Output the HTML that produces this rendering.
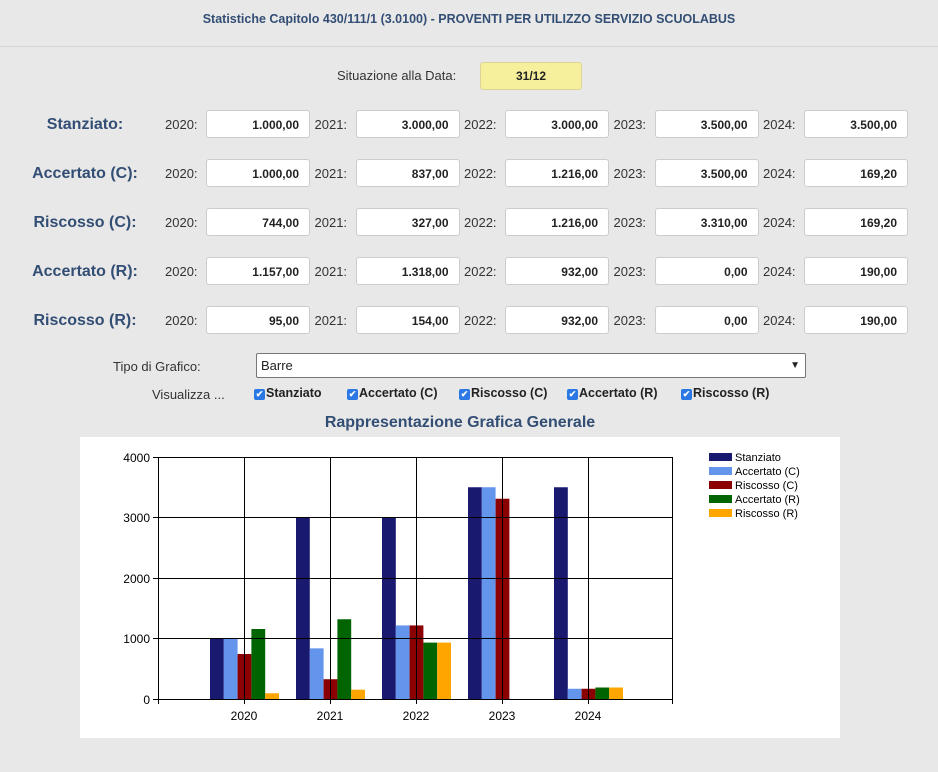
<!DOCTYPE html>
<html><head><meta charset="utf-8"><style>
body{margin:0;width:938px;height:772px;background:#e8e8e8;font-family:"Liberation Sans",sans-serif;position:relative;overflow:hidden}
.a{position:absolute}
.t{color:#334e74;font-weight:bold}
.lab{position:absolute;width:140px;left:15px;text-align:center;font-size:16px;font-weight:bold;color:#334e74}
.yr{position:absolute;font-size:13px;color:#333}
.in{position:absolute;height:28px;background:#fff;border:1px solid #ccc;border-radius:3px;font-size:12px;font-weight:bold;color:#222;text-align:right;line-height:28px;box-sizing:border-box;padding-right:10px;width:104px}
.cb{position:absolute;top:386px;font-size:12.5px;font-weight:bold;color:#222;line-height:14px}
.cb i{display:inline-block;width:11px;height:11px;background:#2b78e4;border-radius:2px;vertical-align:0px;margin-right:1px;color:#fff;font-style:normal;font-size:9px;line-height:11px;text-align:center}
</style></head><body>
<div class="a t" style="left:0;width:938px;top:12px;text-align:center;font-size:12.5px">Statistiche Capitolo 430/111/1 (3.0100) - PROVENTI PER UTILIZZO SERVIZIO SCUOLABUS</div>
<div class="a" style="left:0;top:46px;width:938px;height:1px;background:#d4d4d4"></div>
<div class="a" style="left:337px;top:68px;font-size:13px;color:#333">Situazione alla Data:</div>
<div class="a" style="left:480px;top:62px;width:102px;height:28px;background:#f6f09c;border:1px solid #ddd49a;border-radius:3px;box-sizing:border-box;text-align:center;line-height:27px;font-size:12px;font-weight:bold;color:#222">31/12</div>
<div id="rows"></div>
<script>
var labs=["Stanziato:","Accertato (C):","Riscosso (C):","Accertato (R):","Riscosso (R):"];
var v=[["1.000,00","3.000,00","3.000,00","3.500,00","3.500,00"],["1.000,00","837,00","1.216,00","3.500,00","169,20"],["744,00","327,00","1.216,00","3.310,00","169,20"],["1.157,00","1.318,00","932,00","0,00","190,00"],["95,00","154,00","932,00","0,00","190,00"]];
var h="";
for(var r=0;r<5;r++){var y=110+r*49;
h+='<div class="lab" style="top:'+(y+6)+'px">'+labs[r]+'</div>';
for(var c=0;c<5;c++){var x=206+c*149.5;
h+='<div class="yr" style="left:'+(x-41)+'px;top:'+(y+7)+'px">'+(2020+c)+':</div>';
h+='<div class="in" style="left:'+x+'px;top:'+y+'px">'+v[r][c]+'</div>';}}
document.getElementById("rows").innerHTML=h;
</script>
<div class="a" style="left:113px;top:359px;font-size:13px;color:#333">Tipo di Grafico:</div>
<div class="a" style="left:256px;top:353px;width:550px;height:25px;background:#fff;border:1px solid #767676;border-radius:2px;box-sizing:border-box;font-size:13px;line-height:23px;padding-left:4px;color:#222">Barre<span style="position:absolute;right:5px;top:0;font-size:10px">&#9660;</span></div>
<div class="a" style="left:152px;top:387px;font-size:13px;color:#333">Visualizza ...</div>
<div class="cb" style="left:254px"><i>✔</i>Stanziato</div>
<div class="cb" style="left:347px"><i>✔</i>Accertato (C)</div>
<div class="cb" style="left:459px"><i>✔</i>Riscosso (C)</div>
<div class="cb" style="left:567px"><i>✔</i>Accertato (R)</div>
<div class="cb" style="left:681px"><i>✔</i>Riscosso (R)</div>
<div class="a t" style="left:0;width:920px;top:414px;text-align:center;font-size:16px">Rappresentazione Grafica Generale</div>
<svg class="a" style="left:80px;top:437px" width="760" height="301" viewBox="80 437 760 301">
<rect x="80" y="437" width="760" height="301" fill="#fff"/>
<g id="bars"></g>
<g stroke="#000" stroke-width="1" fill="none">
<rect x="158.5" y="457.5" width="514" height="242"/>
<line x1="158.5" y1="517.5" x2="672.5" y2="517.5"/><line x1="158.5" y1="578.5" x2="672.5" y2="578.5"/><line x1="158.5" y1="638.5" x2="672.5" y2="638.5"/>
<line x1="244.5" y1="457" x2="244.5" y2="699"/><line x1="330.5" y1="457" x2="330.5" y2="699"/><line x1="416.5" y1="457" x2="416.5" y2="699"/><line x1="502.5" y1="457" x2="502.5" y2="699"/><line x1="588.5" y1="457" x2="588.5" y2="699"/>
<line x1="153" y1="457.5" x2="158" y2="457.5"/><line x1="153" y1="517.5" x2="158" y2="517.5"/><line x1="153" y1="578.5" x2="158" y2="578.5"/><line x1="153" y1="638.5" x2="158" y2="638.5"/><line x1="153" y1="699.5" x2="158" y2="699.5"/>
<line x1="158.5" y1="699" x2="158.5" y2="704"/><line x1="244.5" y1="699" x2="244.5" y2="704"/><line x1="330.5" y1="699" x2="330.5" y2="704"/><line x1="416.5" y1="699" x2="416.5" y2="704"/><line x1="502.5" y1="699" x2="502.5" y2="704"/><line x1="588.5" y1="699" x2="588.5" y2="704"/><line x1="672.5" y1="699" x2="672.5" y2="704"/>
</g>
<g font-size="12" fill="#000" text-anchor="end" font-family="Liberation Sans,sans-serif">
<text x="150" y="462">4000</text><text x="150" y="522">3000</text><text x="150" y="583">2000</text><text x="150" y="643">1000</text><text x="150" y="704">0</text>
</g>
<g font-size="12" fill="#000" text-anchor="middle" font-family="Liberation Sans,sans-serif">
<text x="244" y="720">2020</text><text x="330" y="720">2021</text><text x="416" y="720">2022</text><text x="502" y="720">2023</text><text x="588" y="720">2024</text>
</g>
<g font-size="11" fill="#000" font-family="Liberation Sans,sans-serif">
<rect x="709" y="453" width="23" height="8" fill="#191970"/><text x="735" y="461">Stanziato</text>
<rect x="709" y="467" width="23" height="8" fill="#6495ed"/><text x="735" y="475">Accertato (C)</text>
<rect x="709" y="481" width="23" height="8" fill="#8b0000"/><text x="735" y="489">Riscosso (C)</text>
<rect x="709" y="495" width="23" height="8" fill="#006400"/><text x="735" y="503">Accertato (R)</text>
<rect x="709" y="509" width="23" height="8" fill="#ffa500"/><text x="735" y="517">Riscosso (R)</text>
</g>
</svg>
<script>
var d=[[1000,3000,3000,3500,3500],[1000,837,1216,3500,169.2],[744,327,1216,3310,169.2],[1157,1318,932,0,190],[95,154,932,0,190]];
var col=["#191970","#6495ed","#8b0000","#006400","#ffa500"];var s="";
for(var g=0;g<5;g++)for(var k=0;k<5;k++){var hh=d[k][g]*0.0605;var x=210+g*86+k*13.8;
s+='<rect x="'+x+'" y="'+(699-hh)+'" width="13.8" height="'+hh+'" fill="'+col[k]+'"/>';}
document.getElementById("bars").innerHTML=s;
</script>
</body></html>
